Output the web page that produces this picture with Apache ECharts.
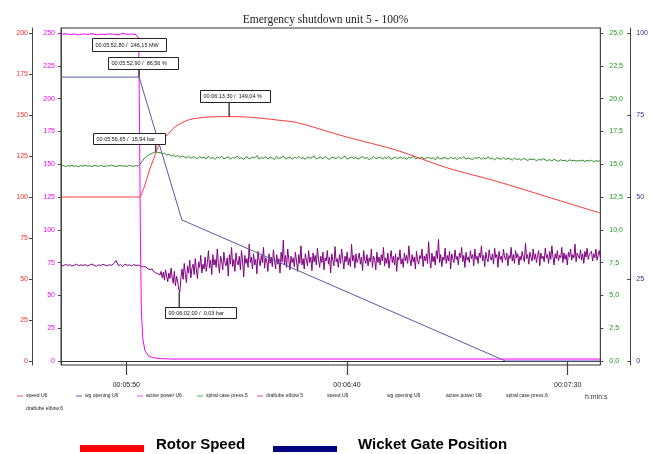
<!DOCTYPE html>
<html><head><meta charset="utf-8">
<script src="https://cdn.jsdelivr.net/npm/echarts@6/dist/echarts.min.js"></script>
<style>html,body{margin:0;padding:0;background:#fff}#c{width:651px;height:454px}</style>
</head><body><div id="c"></div>
<script>
// ---------- DATA (time in seconds since 00:00:00) ----------
const T_START = 335.2, T_END = 457.4, T_TRIP = 352.9;
const xTickValues = [350, 400, 450];
const speedTicks = [0, 25, 50, 75, 100, 125, 150, 175, 200];
const powerTicks = [0, 25, 50, 75, 100, 125, 150, 175, 200, 225, 250];
const pressTicks = [0, 2.5, 5, 7.5, 10, 12.5, 15, 17.5, 20, 22.5, 25];
const wgTicks = [0, 25, 50, 75, 100];

const speedTimes  = [335.2, 352.9, 353.6, 354.3, 355.2, 356.3, 357.4, 359.0, 361.2, 364.1, 367.9, 373.3, 378.2, 384.3, 388.8, 400.0, 411.2, 422.4, 433.6, 444.8, 457.4];
const speedValues = [100, 100, 103, 108, 116, 124, 131.7, 137, 143, 147, 148.6, 149.04, 148.6, 146.9, 145.3, 136.5, 128.6, 118, 109.8, 100.6, 90.2];

const wgTimes  = [335.2, 352.9, 362.6, 435.9, 457.4];
const wgValues = [86.56, 86.56, 43.0, 0, 0];

const powerTimes  = [335.2, 336.2, 337.2, 338.2, 339.2, 340.2, 341.2, 342.2, 343.2, 344.2, 345.2, 346.2, 347.2, 348.2, 349.2, 350.2, 351.2, 352.2, 352.8, 353.0, 353.2, 353.4, 353.7, 354.2, 355.0, 356.0, 358.0, 360.0, 457.4];
const powerValues = [249.0, 249.4, 248.8, 249.2, 248.6, 249.3, 248.9, 249.5, 248.7, 249.1, 248.8, 249.4, 249.0, 248.5, 249.9, 248.9, 249.3, 248.8, 246.15, 180, 90, 40, 18, 8, 4, 2.5, 1.8, 1.5, 1.5];

// spiral case pressure U5 (bar), evenly sampled from T_START to T_END
const pressValues = [
14.86,14.90,14.83,14.88,14.85,14.92,14.84,14.87,14.81,14.89,
14.86,14.93,14.85,14.88,14.82,14.90,14.87,14.84,14.91,14.86,
14.83,14.89,14.85,14.94,14.86,14.82,14.88,14.90,14.85,14.87,
14.83,14.91,14.86,14.84,14.89,14.86,
15.02,15.25,15.48,15.60,15.72,15.80,15.88,15.94,15.86,15.91,
15.78,15.84,15.70,15.76,15.62,15.71,15.58,15.66,15.52,15.63,
15.55,15.48,15.61,15.45,15.57,15.50,15.42,15.58,15.47,15.53,
15.40,15.62,15.44,15.51,15.37,15.55,15.46,15.60,15.41,15.49,
15.56,15.38,15.52,15.45,15.63,15.43,15.50,15.36,15.58,15.47,
15.42,15.54,15.48,15.66,15.39,15.51,15.45,15.57,15.40,15.53,
15.47,15.35,15.59,15.44,15.50,15.62,15.41,15.48,15.55,15.38,
15.52,15.46,15.60,15.43,15.49,15.37,15.56,15.45,15.51,15.64,
15.40,15.48,15.54,15.42,15.58,15.46,15.36,15.53,15.49,15.44,
15.57,15.41,15.50,15.62,15.39,15.47,15.55,15.43,15.52,15.38,
15.49,15.58,15.44,15.51,15.35,15.46,15.60,15.42,15.48,15.54,
15.40,15.50,15.45,15.59,15.37,15.47,15.53,15.41,15.56,15.44,
15.49,15.36,15.52,15.46,15.61,15.40,15.48,15.43,15.55,15.38,
15.47,15.53,15.42,15.50,15.34,15.57,15.45,15.40,15.52,15.46,
15.38,15.55,15.43,15.49,15.36,15.51,15.44,15.58,15.39,15.47,
15.42,15.35,15.50,15.45,15.53,15.37,15.48,15.41,15.56,15.40,
15.46,15.33,15.49,15.43,15.38,15.52,15.36,15.45,15.40,15.31,
15.47,15.35,15.42,15.30,15.44,15.37,15.28,15.41,15.34,15.39,
15.26,15.36,15.31,15.42,15.33,15.27,15.35,15.24,15.38,15.29,
15.22,15.34,15.27,15.31,15.20,15.33,15.26,15.30,15.23,15.28,
15.25,15.32,15.21,15.29,15.24,15.30,15.19,15.27,15.23,15.25
];

// draft tube elbow U5 (bar): before the trip (T_START .. 352.7), evenly sampled
const draftPreValues = [
0.200,0.195,0.204,0.198,0.202,0.193,0.199,0.205,0.196,0.201,
0.197,0.203,0.194,0.200,0.206,0.198,0.192,0.201,0.197,0.204,
0.199,0.195,0.202,0.198,0.210,0.228,0.196,0.203,0.190,0.206,
0.198,0.201,0.194,0.203,0.197,0.200
];
// draft tube elbow U5 (bar): after the trip (T_TRIP .. T_END), evenly sampled
const draftPostValues = [
0.200,0.197,0.192,0.195,0.188,0.184,0.189,0.180,0.176,0.182,
0.172,0.168,0.175,0.160,0.165,0.152,0.158,0.145,0.150,0.138,
0.160,0.120,0.155,0.105,0.170,0.130,0.095,0.150,0.115,0.180,
0.125,0.085,0.160,0.070,0.130,0.100,0.045,0.031,0.120,0.175,
0.110,0.210,0.140,0.090,0.195,0.150,0.230,0.120,0.180,0.205,
0.140,0.240,0.170,0.115,0.220,0.185,0.260,0.150,0.205,0.175,
0.250,0.160,0.215,0.290,0.180,0.230,0.140,0.265,0.200,0.235,
0.185,0.300,0.210,0.150,0.255,0.225,0.170,0.280,0.215,0.195,
0.245,0.130,0.265,0.205,0.310,0.190,0.235,0.160,0.275,0.220,
0.200,0.255,0.170,0.290,0.225,0.125,0.260,0.210,0.240,0.185,
0.330,0.215,0.250,0.175,0.270,0.200,0.235,0.145,0.285,0.230,
0.195,0.260,0.215,0.310,0.180,0.245,0.225,0.160,0.270,0.210,
0.250,0.190,0.295,0.230,0.175,0.265,0.205,0.240,0.150,0.280,
0.220,0.355,0.200,0.260,0.185,0.300,0.235,0.170,0.255,0.215,
0.245,0.190,0.280,0.225,0.160,0.265,0.210,0.320,0.200,0.240,
0.175,0.270,0.230,0.195,0.290,0.215,0.250,0.165,0.275,0.220,
0.260,0.200,0.305,0.235,0.185,0.255,0.215,0.280,0.170,0.245,
0.225,0.290,0.205,0.250,0.150,0.270,0.230,0.195,0.315,0.220,
0.240,0.185,0.265,0.210,0.300,0.235,0.175,0.255,0.220,0.280,
0.200,0.245,0.190,0.330,0.225,0.260,0.180,0.270,0.215,0.240,
0.275,0.205,0.250,0.165,0.290,0.230,0.210,0.265,0.195,0.245,
0.220,0.300,0.185,0.255,0.235,0.170,0.280,0.215,0.250,0.200,
0.265,0.225,0.310,0.195,0.245,0.210,0.275,0.180,0.240,0.290,
0.215,0.255,0.200,0.270,0.160,0.250,0.230,0.295,0.205,0.240,
0.185,0.275,0.225,0.260,0.210,0.320,0.235,0.195,0.265,0.220,
0.250,0.175,0.285,0.230,0.205,0.260,0.240,0.300,0.190,0.255,
0.225,0.270,0.210,0.345,0.235,0.180,0.275,0.220,0.255,0.200,
0.290,0.240,0.360,0.215,0.265,0.190,0.250,0.230,0.305,0.210,
0.260,0.225,0.285,0.175,0.270,0.240,0.215,0.295,0.235,0.255,
0.200,0.275,0.245,0.310,0.220,0.260,0.185,0.280,0.230,0.250,
0.215,0.290,0.240,0.265,0.195,0.300,0.235,0.255,0.210,0.275,
0.245,0.320,0.225,0.260,0.190,0.280,0.240,0.220,0.295,0.250,
0.230,0.270,0.205,0.305,0.245,0.265,0.185,0.285,0.235,0.255,
0.215,0.300,0.250,0.230,0.275,0.195,0.260,0.240,0.310,0.225,
0.265,0.210,0.290,0.245,0.270,0.200,0.255,0.230,0.285,0.250,
0.220,0.335,0.240,0.265,0.205,0.280,0.250,0.225,0.300,0.235,
0.270,0.215,0.260,0.290,0.195,0.275,0.240,0.255,0.220,0.305,
0.245,0.265,0.210,0.285,0.235,0.320,0.250,0.200,0.270,0.240,
0.290,0.225,0.260,0.245,0.310,0.215,0.275,0.235,0.265,0.200,
0.280,0.250,0.300,0.230,0.265,0.245,0.330,0.220,0.275,0.255,
0.240,0.295,0.230,0.270,0.210,0.285,0.250,0.305,0.235,0.265,
0.255,0.285,0.225,0.270,0.245,0.300,0.230,0.260,0.290,0.250
];

// annotations
const annTimes  = [352.8, 352.9, 373.3, 356.65, 362.0];
const annValues = [246.15, 86.56, 149.04, 15.94, 0.031];
const annTexts  = ['00:05:52,80 /  246,15 MW', '00:05:52,90 /  86,56 %', '00:06:13,30 /  149,04 %', '00:05:56,65 /  15,94 bar', '00:06:02,00 /  0,03 bar'];

const legendNames = ['speed U6', 'wg opening U6', 'active power U6', 'spiral case press.5', 'draftube elbow 5', 'speed U6', 'wg opening U6', 'active power U6', 'spiral case press.6', 'draftube elbow 6'];

// ---------- LAYOUT / STYLE ----------
const annAxis = [1, 3, 0, 2, 4];
const annBox = [ // dx, dy of box top-left relative to point, width, height
  [-47, 0, 74, 13], [-31, -20, 70, 12], [-29, -27, 70, 12], [-62.6, -19, 72, 11], [-14.6, 15, 71, 11]
];
const legendPos = [[17,396],[76,396],[137,396],[197,396],[257,396],[318,396],[378,396],[437,396],[497,396],[17,409]];
const legendColors = ['#ff5050','#5a5ab8','#ff50ff','#50a850','#b050b0',null,null,null,null,null];

const FONT = 'Liberation Sans, Arial, sans-serif';
function ext(lo, hi) { const u = (hi - lo) / 328; return {min: lo - 4 * u, max: hi + 5 * u}; }
function hms(v) { const s = Math.round(v); const m = Math.floor(s / 60), ss = s % 60; return '00:' + String(m).padStart(2,'0') + ':' + String(ss).padStart(2,'0'); }
function evenTimes(n, a, b) { const out = []; for (let i = 0; i < n; i++) out.push(a + (b - a) * i / (n - 1)); return out; }
function zip(a, b) { return a.map((t, i) => [t, b[i]]); }

const pressTimes = evenTimes(pressValues.length, T_START, T_END);
const draftTimes = evenTimes(draftPreValues.length, T_START, 352.7).concat(evenTimes(draftPostValues.length, T_TRIP, T_END));
const draftValues = draftPreValues.concat(draftPostValues);

const chart = echarts.init(document.getElementById('c'), null, {renderer: 'canvas'});

function yAx(range, ticks, opts) {
  return Object.assign({
    type: 'value', min: range.min, max: range.max, splitLine: {show: false},
    axisLine: {show: true, onZero: false, lineStyle: {color: '#444', width: 1}},
    axisTick: {show: true, length: 3, customValues: ticks, lineStyle: {color: '#444'}},
    axisLabel: {customValues: ticks, fontSize: 7, fontFamily: FONT}
  }, opts);
}

const sp = ext(0, 200), pw = ext(0, 250), pr = ext(0, 25), wg = ext(0, 100), dr = ext(-0.4, 1.65);
const yAxes = [
  yAx(sp, speedTicks, {position: 'left', offset: 29}),
  yAx(pw, powerTicks, {position: 'left', offset: 0}),
  yAx(pr, pressTicks, {position: 'right', offset: 0}),
  yAx(wg, wgTicks, {position: 'right', offset: 30}),
  {type: 'value', min: dr.min, max: dr.max, show: false, splitLine: {show: false}}
];
yAxes[0].axisLabel.color = '#ff3030'; yAxes[0].axisLabel.margin = 4;
yAxes[1].axisLabel.color = '#ff00ff'; yAxes[1].axisLabel.margin = 6;
yAxes[2].axisLabel.color = '#1a9a1a'; yAxes[2].axisLabel.margin = 9;
yAxes[2].axisLabel.formatter = v => v.toFixed(1).replace('.', ',');
yAxes[3].axisLabel.color = '#303090'; yAxes[3].axisLabel.margin = 6;
yAxes[3].axisTick.inside = true;

function line(name, data, axis, color, z) {
  return {name, type: 'line', data, yAxisIndex: axis, showSymbol: false, symbol: 'none', z: z || 2,
    lineStyle: {color, width: 1}, itemStyle: {color}, animation: false};
}

chart.setOption({
  animation: false,
  title: {text: 'Emergency shutdown unit 5 - 100%', left: 'center', top: 9,
    textStyle: {fontFamily: 'Liberation Serif, Times New Roman, serif', fontSize: 11.5, fontWeight: 'normal', color: '#222'}},
  grid: {left: 61, right: 46, top: 28, bottom: 89, show: true, borderColor: '#333', borderWidth: 1, containLabel: false},
  xAxis: {type: 'value', min: T_START, max: T_END, splitLine: {show: false},
    axisLine: {show: true, lineStyle: {color: '#333'}},
    axisTick: {show: true, length: 14, customValues: xTickValues, lineStyle: {color: '#444', width: 1.2}},
    axisLabel: {customValues: xTickValues, formatter: hms, fontSize: 7, fontFamily: FONT, color: '#222', margin: 17}},
  yAxis: yAxes,
  series: [
    line('draftube elbow 5', zip(draftTimes, draftValues), 4, '#800080', 2),
    line('spiral case press.5', zip(pressTimes, pressValues), 2, '#2a8a2a', 3),
    line('active power U6', zip(powerTimes, powerValues), 1, '#ff00ff', 4),
    line('wg opening U6', zip(wgTimes, wgValues), 3, '#5858a8', 5),
    Object.assign(line('speed U6', zip(speedTimes, speedValues), 0, '#ff3838', 6), {smooth: 0.3})
  ]
});

// ---------- annotations & legends (graphic) ----------
const g = [];
annTimes.forEach((t, i) => {
  const p = chart.convertToPixel({xAxisIndex: 0, yAxisIndex: annAxis[i]}, [t, annValues[i]]);
  const [dx, dy, w, h] = annBox[i];
  const bx = Math.round(p[0] + dx) + 0.5, by = Math.round(p[1] + dy) + 0.5;
  if (dy < 0 && by + h < p[1]) g.push({type: 'line', z: 50, shape: {x1: p[0], y1: by + h, x2: p[0], y2: p[1]}, style: {stroke: '#444', lineWidth: 1.5}});
  if (dy > 0) g.push({type: 'line', z: 50, shape: {x1: p[0], y1: p[1], x2: p[0], y2: by}, style: {stroke: '#444', lineWidth: 1.5}});
  g.push({type: 'rect', z: 51, shape: {x: bx, y: by, width: w, height: h}, style: {fill: '#fff', stroke: '#222', lineWidth: 1}});
  g.push({type: 'text', z: 52, style: {x: bx + 3, y: by + h / 2, text: annTexts[i], font: '5.5px ' + FONT, fill: '#111', verticalAlign: 'middle'}});
});
legendNames.forEach((n, i) => {
  const [x, y] = legendPos[i];
  if (legendColors[i]) g.push({type: 'line', shape: {x1: x, y1: y, x2: x + 6, y2: y}, style: {stroke: legendColors[i], lineWidth: 1}});
  g.push({type: 'text', style: {x: x + 9, y: y, text: n, font: '5px ' + FONT, fill: '#222', verticalAlign: 'middle'}});
});
g.push({type: 'text', style: {x: 585, y: 397, text: 'h:min:s', font: '7px ' + FONT, fill: '#333', verticalAlign: 'middle'}});
g.push({type: 'rect', shape: {x: 80, y: 445, width: 64, height: 7}, style: {fill: '#ff0000'}});
g.push({type: 'text', style: {x: 156, y: 444.5, text: 'Rotor Speed', font: 'bold 15px ' + FONT, fill: '#000', verticalAlign: 'middle'}});
g.push({type: 'rect', shape: {x: 273, y: 446, width: 64, height: 6}, style: {fill: '#000080'}});
g.push({type: 'text', style: {x: 358, y: 444.5, text: 'Wicket Gate Position', font: 'bold 15px ' + FONT, fill: '#000', verticalAlign: 'middle'}});
chart.setOption({graphic: g});
</script>
</body></html>
